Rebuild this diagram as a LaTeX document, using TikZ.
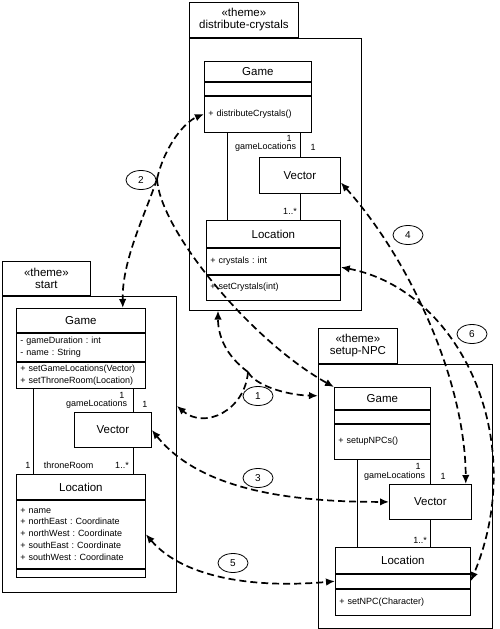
\documentclass[tikz,border=0pt]{standalone}
\usepackage{fontspec}
\setmainfont{Liberation Sans}
\usetikzlibrary{arrows.meta,positioning,shapes.geometric}
\frenchspacing

\begin{document}
\begin{tikzpicture}[x=1pt, y=-1pt, line width=0.8pt,
    theme/.style={draw, anchor=north west, inner sep=0pt, align=center, font=\fontsize{11.5}{12}\selectfont},
    frame/.style={draw, anchor=north west, inner sep=0pt},
    cname/.style={draw, anchor=north west, inner sep=0pt, font=\fontsize{11.5}{13}\selectfont},
    members/.style={draw, anchor=north west, inner xsep=4pt, inner ysep=0pt, align=left, font=\fontsize{9}{11.8}\selectfont},
    mult/.style={inner sep=0.5pt, font=\fontsize{9}{10}\selectfont},
    num/.style={draw, ellipse, fill=white, minimum width=30pt, minimum height=19pt, inner sep=0pt, font=\fontsize{10}{11}\selectfont},
    link/.style={line width=1.7pt, dash pattern=on 7pt off 4pt, arrows={-Latex[length=9pt, width=7.5pt]}},
    both/.style={link, arrows={Latex[length=9pt, width=7.5pt]-Latex[length=9pt, width=7.5pt]}}]
    \useasboundingbox (0,0) rectangle (500,629);

    \node[theme, minimum width=109pt, minimum height=35pt] (dcTab) at (189,2) {«theme»\\distribute-crystals};
    \node[frame, minimum width=172pt, minimum height=272pt] (dcFrame) at (dcTab.south west) {};
    \node[cname, minimum width=107pt, minimum height=20pt] (dcGame) at (204,61) {Game};
    \node[members, text width=99pt, minimum height=13pt] (dcAttr) at (dcGame.south west) {};
    \node[members, text width=99pt, minimum height=36pt] (dcOps) at (dcAttr.south west) {+ distributeCrystals()};
    \node[cname, minimum width=81pt, minimum height=36pt] (dcVec) at (259,157) {Vector};
    \node[cname, minimum width=134pt, minimum height=27pt] (dcLoc) at (206,220) {Location};
    \node[members, text width=126pt, minimum height=26pt] (dcLocAttr) at (dcLoc.south west) {+ crystals : int};
    \node[members, text width=126pt, minimum height=25pt] (dcLocOps) at (dcLocAttr.south west) {+ setCrystals(int)};
    \coordinate (dcL) at ([xshift=23pt]dcOps.south west);
    \draw (dcL) -- (dcL |- dcLoc.north);
    \draw (dcVec.north) -- (dcVec.north |- dcOps.south);
    \draw (dcVec.south) -- (dcLoc.north -| dcVec.south);
    \node[mult] at (289,138) {1};
    \node[mult, anchor=east] at (297,147) {gameLocations};
    \node[mult] at (313,147) {1};
    \node[mult] at (290,211) {1..*};

    \node[theme, minimum width=88pt, minimum height=34pt] (stTab) at (2,261) {«theme»\\start};
    \node[frame, minimum width=174pt, minimum height=296pt] (stFrame) at (stTab.south west) {};
    \node[cname, minimum width=129pt, minimum height=24pt] (stGame) at (16,308) {Game};
    \node[members, text width=121pt, minimum height=28pt] (stAttr) at (stGame.south west) {- gameDuration : int\\- name : String};
    \node[members, text width=121pt, minimum height=26pt] (stOps) at (stAttr.south west) {+ setGameLocations(Vector)\\+ setThroneRoom(Location)};
    \node[cname, minimum width=77pt, minimum height=35pt] (stVec) at (74,412) {Vector};
    \node[cname, minimum width=129pt, minimum height=25pt] (stLoc) at (16,474) {Location};
    \node[members, text width=121pt, minimum height=68pt] (stLocAttr) at (stLoc.south west) {+ name\\+ northEast : Coordinate\\+ northWest : Coordinate\\+ southEast : Coordinate\\+ southWest : Coordinate};
    \node[members, text width=121pt, minimum height=8pt] (stLocOps) at (stLocAttr.south west) {};
    \coordinate (stL) at ([xshift=17pt]stOps.south west);
    \coordinate (stR) at ([xshift=-12pt]stOps.south east);
    \draw (stL) -- (stL |- stLoc.north);
    \draw (stR) -- (stR |- stVec.north);
    \draw (stR |- stVec.south) -- (stR |- stLoc.north);
    \node[mult] at (122,395) {1};
    \node[mult, anchor=east] at (128,404) {gameLocations};
    \node[mult] at (145,404) {1};
    \node[mult] at (28,465) {1};
    \node[mult, anchor=west] at (43,465) {throneRoom};
    \node[mult] at (122,465) {1..*};

    \node[theme, minimum width=79pt, minimum height=35pt] (suTab) at (318,328) {«theme»\\setup-NPC};
    \node[frame, minimum width=174pt, minimum height=264pt] (suFrame) at (suTab.south west) {};
    \node[cname, minimum width=96pt, minimum height=22pt] (suGame) at (334,387) {Game};
    \node[members, text width=88pt, minimum height=13pt] (suAttr) at (suGame.south west) {};
    \node[members, text width=88pt, minimum height=35pt] (suOps) at (suAttr.south west) {+ setupNPCs()};
    \node[cname, minimum width=82pt, minimum height=35pt] (suVec) at (389,484) {Vector};
    \node[cname, minimum width=135pt, minimum height=26pt] (suLoc) at (335,547) {Location};
    \node[members, text width=127pt, minimum height=14pt] (suLocAttr) at (suLoc.south west) {};
    \node[members, text width=127pt, minimum height=26pt] (suLocOps) at (suLocAttr.south west) {+ setNPC(Character)};
    \coordinate (suL) at ([xshift=23pt]suOps.south west);
    \draw (suL) -- (suL |- suLoc.north);
    \draw (suVec.north) -- (suVec.north |- suOps.south);
    \draw (suVec.south) -- (suLoc.north -| suVec.south);
    \node[mult] at (418,466) {1};
    \node[mult, anchor=east] at (426,476) {gameLocations};
    \node[mult] at (443,476) {1};
    \node[mult] at (420,540) {1..*};

    \coordinate (j2) at (157,179);
    \coordinate (j1) at (248,372);
    \draw[link] (j2) .. controls (165,145) and (185,122) .. (dcOps.west);
    \draw[link] (j2) .. controls (145,215) and (122,260) .. ([xshift=-23pt]stGame.north east);
    \draw[link] (j2) .. controls (160,230) and (250,340) .. (suGame.north west);
    \draw[link] (j1) .. controls (225,355) and (218,335) .. ([xshift=29pt]dcFrame.south west);
    \draw[link] (j1) .. controls (245,410) and (205,430) .. ([yshift=-110pt]stFrame.north east);
    \draw[link] (j1) .. controls (255,385) and (285,395) .. ([yshift=-32pt]suFrame.north west);
    \draw[both] (stVec.east) .. controls (200,490) and (290,502) .. (suVec.west);
    \draw[both] ([yshift=-7pt]dcVec.east) .. controls (410,260) and (465,380) .. ([xshift=-6pt]suVec.north east);
    \draw[both] (stLocAttr.east) .. controls (185,580) and (260,588) .. (suLocAttr.west);
    \draw[both] ([yshift=-6pt]dcLocAttr.east) .. controls (460,290) and (530,440) .. (suLocAttr.east);

    \node[num] (n1) at (258,396) {1};
    \node[num] (n2) at (141,180) {2};
    \node[num] (n3) at (258,478) {3};
    \node[num] (n4) at (408,235) {4};
    \node[num] (n5) at (233,563) {5};
    \node[num] (n6) at (472,334) {6};
\end{tikzpicture}
\end{document}
